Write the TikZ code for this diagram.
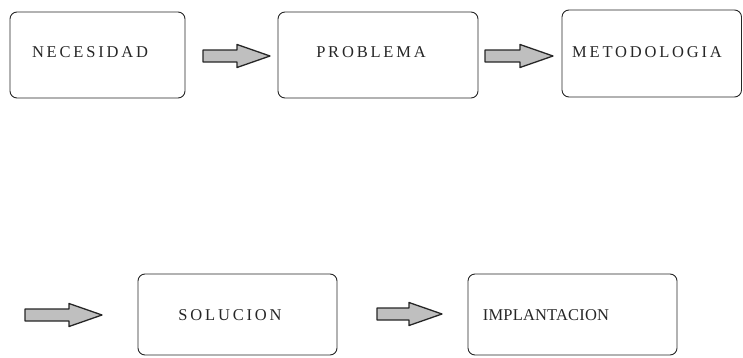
\documentclass[tikz,border=0pt]{standalone}
\usepackage{fontspec}
\setmainfont{Liberation Serif}[LetterSpace=17]
\newfontfamily\tightfont{Liberation Serif}[LetterSpace=1]
\begin{document}
\begin{tikzpicture}[x=1pt,y=1pt,
  box/.style={draw=black!85, line width=0.9pt, rounded corners=7pt},
  lbl/.style={font=\fontsize{16.5}{18}\selectfont, text=black!85, inner sep=0pt},
  barrow/.style={draw=black!85, line width=1.3pt, fill=gray!50, line join=round}]
\useasboundingbox (0,0) rectangle (743,357);
% boxes
\draw[box] (10,259) rectangle (185,345);
\node[lbl] (t1) at (90,304.5) {NECESIDAD};
\draw[box] (278,259) rectangle (478,345);
\node[lbl] (t2) at (371,304.5) {PROBLEMA};
\draw[box] (562,260) rectangle (741.5,347);
\node[lbl] (t3) at (647,304.5) {METODOLOGIA};
\draw[box] (138,2) rectangle (337,83);
\node[lbl] (t4) at (230,42) {SOLUCION};
\draw[box] (468,2) rectangle (677,83);
\node[lbl, font=\tightfont\fontsize{16.5}{18}\selectfont] (t5) at (546,42) {IMPLANTACION};
% block arrows
\newcommand{\blockarrow}[3]{%
  \draw[barrow] (#1,#3-6) -- (#2-33,#3-6) -- (#2-33,#3-11.5) -- (#2,#3) -- (#2-33,#3+11.5) -- (#2-33,#3+6) -- (#1,#3+6) -- cycle;}
\blockarrow{203}{270}{301}
\blockarrow{485}{553}{301}
\blockarrow{25}{102}{42}
\blockarrow{377}{442}{43}
\end{tikzpicture}
\end{document}
